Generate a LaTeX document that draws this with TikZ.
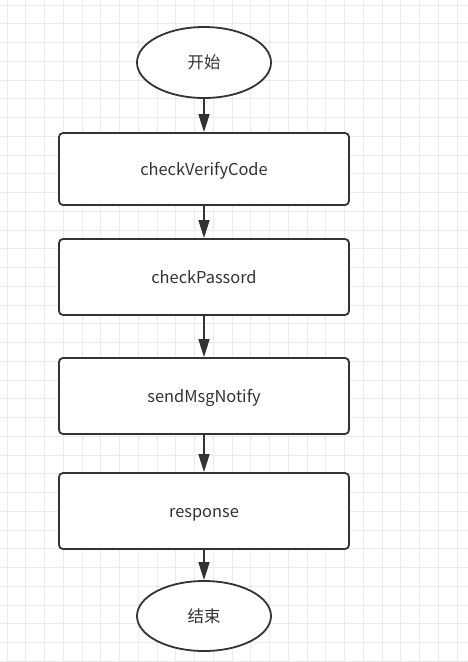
\documentclass[tikz,border=0pt]{standalone}
\usepackage{fontspec}
\setmainfont{Noto Sans CJK SC}
\usetikzlibrary{shapes.geometric,arrows.meta}
\definecolor{ink}{HTML}{333333}
\definecolor{gridc}{HTML}{EBEBEB}
\begin{document}
\begin{tikzpicture}[x=1pt,y=-1pt,
  gridline/.style={draw=gridc,line width=0.9pt},
  label/.style={text=ink,font=\fontsize{16.4pt}{19pt}\selectfont,text height=13pt,text depth=1pt},
  terminal/.style={ellipse,draw=ink,line width=1.8pt,fill=white,minimum width=134pt,minimum height=71pt,inner sep=0pt,label},
  stepbox/.style={rectangle,rounded corners=4pt,draw=ink,line width=1.8pt,fill=white,minimum width=290pt,inner sep=0pt,label},
  flow/.style={draw=ink,line width=1.6pt,-{Triangle[length=18pt,width=11pt]}}]
\useasboundingbox (0,0) rectangle (468,662);
\fill[white] (0,0) rectangle (468,662);
\foreach \k in {0,...,24} {\draw[gridline] (7+18.75*\k,0) -- (7+18.75*\k,662);}
\foreach \k in {0,...,35} {\draw[gridline] (0,5+18.75*\k) -- (468,5+18.75*\k);}
\node[terminal] (start) at (204,62.5) {开始};
\node[stepbox,minimum height=72pt] (b1) at (204,169) {checkVerifyCode};
\node[stepbox,minimum height=76pt] (b2) at (204,277) {checkPassord};
\node[stepbox,minimum height=76pt] (b3) at (204,396) {sendMsgNotify};
\node[stepbox,minimum height=76pt] (b4) at (204,511) {response};
\node[terminal,minimum height=70pt] (end) at (204,616) {结束};
\draw[flow] (start) -- (b1);
\draw[flow] (b1) -- (b2);
\draw[flow] (b2) -- (b3);
\draw[flow] (b3) -- (b4);
\draw[flow] (b4) -- (end);
\end{tikzpicture}
\end{document}
